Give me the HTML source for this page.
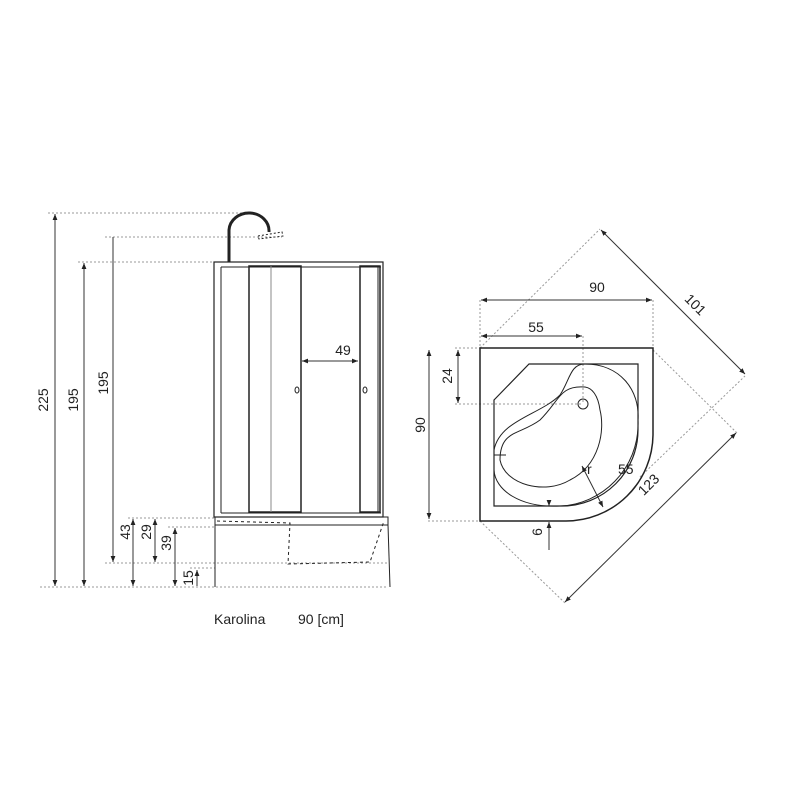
<!DOCTYPE html>
<html><head><meta charset="utf-8"><style>
body{margin:0;background:#fff}
svg{display:block}
text{font-family:"Liberation Sans",sans-serif;fill:#222;font-size:14px}
</style></head><body>
<svg width="800" height="800" viewBox="0 0 800 800">
<defs>
<marker id="a" viewBox="0 0 10 10" refX="10" refY="5" markerWidth="6" markerHeight="6" orient="auto-start-reverse"><path d="M0,1 L10,5 L0,9 z" fill="#222"/></marker>
</defs>
<g stroke="#999" stroke-width="1" stroke-dasharray="2,2" fill="none">
<line x1="48" y1="213" x2="245" y2="213"/>
<line x1="105" y1="237" x2="282" y2="237"/>
<line x1="78" y1="262" x2="215" y2="262"/>
<line x1="128" y1="518" x2="215" y2="518"/>
<line x1="168" y1="527" x2="215" y2="527"/>
<line x1="105" y1="563" x2="388" y2="563"/>
<line x1="190" y1="568" x2="215" y2="568"/>
<line x1="40" y1="587" x2="388" y2="587"/>
</g>
<g stroke="#333" stroke-width="1" marker-start="url(#a)" marker-end="url(#a)">
<line x1="55" y1="214" x2="55" y2="586"/>
<line x1="84" y1="263" x2="84" y2="586"/>
<line x1="133" y1="519" x2="133" y2="586"/>
<line x1="155" y1="519" x2="155" y2="562"/>
<line x1="175" y1="528" x2="175" y2="586"/>
<line x1="302" y1="361" x2="358" y2="361"/>
</g>
<line x1="113" y1="237" x2="113" y2="562" stroke="#333" marker-end="url(#a)"/>
<line x1="197" y1="570" x2="197" y2="586" stroke="#333" marker-start="url(#a)"/>
<g>
<text transform="translate(48,400) rotate(-90)" text-anchor="middle">225</text>
<text transform="translate(78,400) rotate(-90)" text-anchor="middle">195</text>
<text transform="translate(108,383) rotate(-90)" text-anchor="middle">195</text>
<text transform="translate(130,532) rotate(-90)" text-anchor="middle">43</text>
<text transform="translate(151,532) rotate(-90)" text-anchor="middle">29</text>
<text transform="translate(171,543) rotate(-90)" text-anchor="middle">39</text>
<text transform="translate(193,578) rotate(-90)" text-anchor="middle">15</text>
<text x="343" y="355" text-anchor="middle">49</text>
</g>
<g stroke="#222" fill="none">
<rect x="214" y="262" width="169" height="255" stroke-width="1.2"/>
<line x1="221" y1="267" x2="381" y2="267"/>
<line x1="221" y1="267" x2="221" y2="513"/>
<line x1="221" y1="513" x2="381" y2="513"/>
<rect x="249" y="266" width="52" height="246" stroke-width="1.5"/>
<line x1="271" y1="266" x2="271" y2="512" stroke="#888"/>
<rect x="360" y="266" width="20" height="246" stroke-width="1.5"/>
<line x1="378" y1="266" x2="378" y2="512"/>
<path d="M229,262 V230 A20,18 0 0 1 269,232" stroke-width="3"/>
<path d="M258,236 L282,232 L283,236 L259,239z" stroke-dasharray="2,2" stroke-width="1"/>
<ellipse cx="297" cy="390" rx="2" ry="3"/>
<ellipse cx="365" cy="390" rx="2" ry="3"/>
<rect x="215" y="517" width="173" height="8"/>
<line x1="215" y1="525" x2="215" y2="587"/>
<line x1="388" y1="525" x2="390" y2="587"/>
<path d="M217,521 L290,523 L288,564 L370,562 L384,521" stroke-dasharray="3,3"/>
</g>
<text x="214" y="624">Karolina</text>
<text x="298" y="624">90 [cm]</text>
<g stroke="#999" stroke-dasharray="2,2" fill="none">
<line x1="480" y1="300" x2="480" y2="348"/>
<line x1="653" y1="300" x2="653" y2="348"/>
<line x1="480" y1="348" x2="600" y2="229"/>
<line x1="653" y1="350" x2="737" y2="433"/>
<line x1="480" y1="521" x2="565" y2="603"/>
<line x1="640" y1="477" x2="745" y2="376"/>
<line x1="583" y1="336" x2="583" y2="403"/>
<line x1="455" y1="348" x2="480" y2="348"/>
<line x1="455" y1="404" x2="583" y2="404"/>
<line x1="428" y1="521" x2="480" y2="521"/>
</g>
<g stroke="#333" marker-start="url(#a)" marker-end="url(#a)">
<line x1="481" y1="300" x2="652" y2="300"/>
<line x1="481" y1="336" x2="582" y2="336"/>
<line x1="429" y1="350" x2="429" y2="519"/>
<line x1="458" y1="350" x2="458" y2="403"/>
<line x1="601" y1="230" x2="745" y2="374"/>
<line x1="565" y1="602" x2="736" y2="433"/>
<line x1="582" y1="466" x2="603" y2="507"/>
</g>
<line x1="549" y1="500" x2="549" y2="506" stroke="#333" marker-end="url(#a)"/>
<line x1="549" y1="550" x2="549" y2="522" stroke="#333" marker-end="url(#a)"/>
<g stroke="#222" fill="none">
<path d="M480,348 H653 V435 A87,87 0 0 1 566,521 H480 Z" stroke-width="1.5"/>
<path d="M494,400 L529,364 H638 V430 A76,76 0 0 1 562,506 H494 Z" stroke-width="1.2"/>
<path d="M494,450 C500,420 540,415 560,395 C570,380 570,364 585,364 C620,364 640,390 638,420 C640,470 600,505 560,506 C520,508 495,490 494,470" stroke-width="1"/>
<path d="M585,387 C560,385 560,400 540,420 C520,435 500,430 500,460 C505,485 545,495 570,480 C600,465 605,430 600,410 C598,395 592,388 585,387Z" stroke-width="1"/>
<circle cx="583" cy="404" r="5"/>
<line x1="494" y1="455" x2="506" y2="455"/>
</g>
<g>
<text x="597" y="292" text-anchor="middle">90</text>
<text x="536" y="332" text-anchor="middle">55</text>
<text transform="translate(452,376) rotate(-90)" text-anchor="middle">24</text>
<text transform="translate(425,425) rotate(-90)" text-anchor="middle">90</text>
<text transform="translate(692,308) rotate(45)" text-anchor="middle">101</text>
<text transform="translate(652,488) rotate(-45)" text-anchor="middle">123</text>
<text x="587" y="474">r</text>
<text x="618" y="474">55</text>
<text transform="translate(542,532) rotate(-90)" text-anchor="middle">6</text>
</g>
</svg>
</body></html>
